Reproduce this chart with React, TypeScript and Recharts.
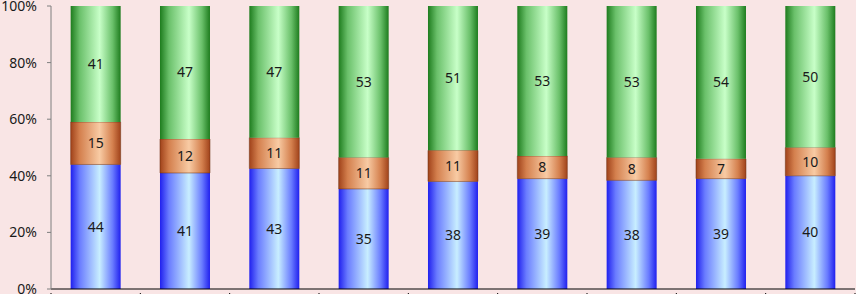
import { BarChart, Bar, XAxis, YAxis, LabelList } from "recharts";

const categories = ["1", "2", "3", "4", "5", "6", "7", "8", "9"];
const blueValues = [44, 41, 43, 35, 38, 39, 38, 39, 40];
const orangeValues = [15, 12, 11, 11, 11, 8, 8, 7, 10];
const greenValues = [41, 47, 47, 53, 51, 53, 53, 54, 50];
const yTicks = [0, 0.2, 0.4, 0.6, 0.8, 1];
const yTickLabels = ["0%", "20%", "40%", "60%", "80%", "100%"];

const data = categories.map((name, i) => ({
  name,
  blue: blueValues[i],
  orange: orangeValues[i],
  green: greenValues[i],
}));

const FONT = "'Noto Sans', 'Open Sans', sans-serif";

function BoundaryTick(props: any) {
  const { x, y, payload, index } = props;
  const half = payload?.offset ?? 44.67;
  return (
    <g>
      <line x1={x - half} y1={y - 4} x2={x - half} y2={y + 2} stroke="#000" />
      {index === categories.length - 1 && (
        <line x1={x + half} y1={y - 4} x2={x + half} y2={y + 2} stroke="#000" />
      )}
    </g>
  );
}

function Grad({ id, dark, mid, light }: { id: string; dark: string; mid: string; light: string }) {
  return (
    <linearGradient id={id} x1="0" y1="0" x2="1" y2="0">
      <stop offset="0%" stopColor={dark} />
      <stop offset="18%" stopColor={mid} />
      <stop offset="58%" stopColor={light} />
      <stop offset="84%" stopColor={mid} />
      <stop offset="100%" stopColor={dark} />
    </linearGradient>
  );
}

const labelStyle = { fill: "#1a1a1a", fontSize: 14, fontFamily: FONT };

export default function App() {
  return (
    <div style={{ position: "absolute", left: 0, top: 0, width: 856, height: 294, background: "#F9E5E5" }}>
      <BarChart
        width={856}
        height={294}
        data={data}
        stackOffset="expand"
        barCategoryGap="22%"
        margin={{ top: 6, right: 1, left: 0, bottom: 0 }}
      >
        <defs>
          <Grad id="gBlue" dark="#2020EE" mid="#6A7CFF" light="#C8EEFF" />
          <Grad id="gOrange" dark="#A0421A" mid="#D4804E" light="#F8CBA4" />
          <Grad id="gGreen" dark="#1E7C1E" mid="#6AC06A" light="#C8FFC8" />
        </defs>
        <XAxis
          dataKey="name"
          height={5}
          axisLine={{ stroke: "#000" }}
          tickLine={false}
          tick={<BoundaryTick />}
          interval={0}
        />
        <YAxis
          width={51}
          domain={[0, 1]}
          ticks={yTicks}
          tickFormatter={(v: number) => yTickLabels[yTicks.indexOf(v)] ?? ""}
          axisLine={{ stroke: "#7F7F7F" }}
          tickLine={{ stroke: "#7F7F7F" }}
          tickSize={4}
          tickMargin={10}
          tick={{ fill: "#1a1a1a", fontSize: 14, fontFamily: FONT }}
          interval={0}
        />
        <Bar dataKey="blue" stackId="a" fill="url(#gBlue)" isAnimationActive={false}>
          <LabelList dataKey="blue" position="center" style={labelStyle} />
        </Bar>
        <Bar dataKey="orange" stackId="a" fill="url(#gOrange)" stroke="#6B2E10" strokeWidth={0.5} isAnimationActive={false}>
          <LabelList dataKey="orange" position="center" style={labelStyle} />
        </Bar>
        <Bar dataKey="green" stackId="a" fill="url(#gGreen)" isAnimationActive={false}>
          <LabelList dataKey="green" position="center" style={labelStyle} />
        </Bar>
      </BarChart>
    </div>
  );
}
